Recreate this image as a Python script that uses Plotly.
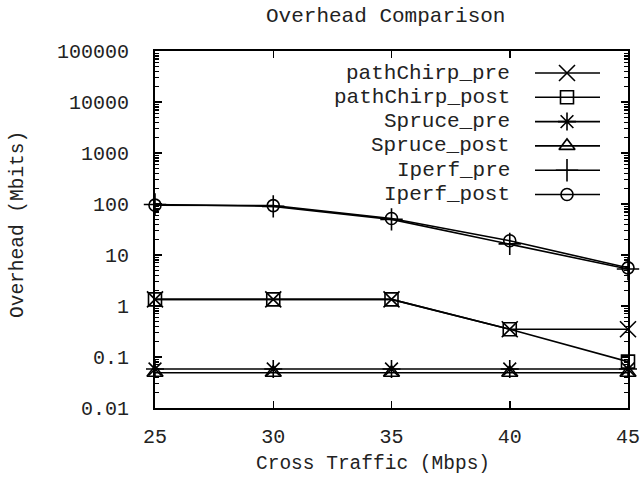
import plotly.graph_objects as go

# ---- data ----
cross_traffic = [25, 30, 35, 40, 45]
pathchirp_pre = [1.35, 1.35, 1.35, 0.35, 0.35]
pathchirp_post = [1.35, 1.35, 1.35, 0.35, 0.081]
spruce_pre = [0.058, 0.058, 0.058, 0.058, 0.058]
spruce_post = [0.049, 0.049, 0.049, 0.049, 0.049]
iperf_pre = [98, 90, 50, 16.5, 5.3]
iperf_post = [95, 93, 52, 19, 5.6]

series_names = ["pathChirp_pre", "pathChirp_post", "Spruce_pre",
                "Spruce_post", "Iperf_pre", "Iperf_post"]
series_values = [pathchirp_pre, pathchirp_post, spruce_pre,
                 spruce_post, iperf_pre, iperf_post]
y_tickvals = [0.01, 0.1, 1, 10, 100, 1000, 10000, 100000]
y_ticktext = ["0.01", "0.1", "1", "10", "100", "1000", "10000", "100000"]
x_tickvals = [25, 30, 35, 40, 45]

# ---- styles ----
symbols = ["x-thin-open", "square-open", "asterisk-open",
           "triangle-up-open", "cross-thin-open", "circle-open"]
sizes = [16, 13, 15, 14, 16, 12]
FONT = "Liberation Mono, Courier New, monospace"
INK = "#222222"

W, H = 643, 483
L, R, T, B = 155, 15, 51, 75
PW, PH = W - L - R, H - T - B


def px_to_paper(px, py):
    return (px - L) / PW, (H - B - py) / PH


fig = go.Figure()

for name, vals, sym, sz in zip(series_names, series_values, symbols, sizes):
    fig.add_trace(go.Scatter(
        x=cross_traffic, y=vals, mode="lines+markers", name=name,
        line=dict(color="black", width=1.6),
        marker=dict(symbol=sym, size=sz, color="black",
                    line=dict(color="black", width=1.6)),
        showlegend=False, xaxis="x", yaxis="y", cliponaxis=False))

# ---- custom legend (key on the right of the text, like gnuplot) ----
row0, row_step = 73, 24.3
text_right, key_x0, key_x1, key_mid = 512, 535, 600, 567

annotations = []
for i, (name, sym, sz) in enumerate(zip(series_names, symbols, sizes)):
    ry = row0 + i * row_step
    fig.add_trace(go.Scatter(
        x=[key_x0, key_x1], y=[ry, ry], mode="lines",
        line=dict(color="black", width=1.6),
        showlegend=False, hoverinfo="skip", xaxis="x2", yaxis="y2"))
    fig.add_trace(go.Scatter(
        x=[key_mid], y=[ry], mode="markers",
        marker=dict(symbol=sym, size=sz, color="black",
                    line=dict(color="black", width=1.6)),
        showlegend=False, hoverinfo="skip", xaxis="x2", yaxis="y2"))
    ax, ay = px_to_paper(text_right, ry)
    annotations.append(dict(
        x=ax, y=ay, xref="paper", yref="paper", text=name,
        showarrow=False, xanchor="right", yanchor="middle",
        font=dict(family=FONT, size=21, color=INK)))

# titles
tx, ty = px_to_paper(385.5, 17)
annotations.append(dict(
    x=tx, y=ty, xref="paper", yref="paper",
    text="Overhead Comparison", showarrow=False,
    xanchor="center", yanchor="middle",
    font=dict(family=FONT, size=21, color=INK)))
tx, ty = px_to_paper(373, 464)
annotations.append(dict(
    x=tx, y=ty, xref="paper", yref="paper",
    text="Cross Traffic (Mbps)", showarrow=False,
    xanchor="center", yanchor="middle",
    font=dict(family=FONT, size=19.5, color=INK)))
tx, ty = px_to_paper(18, 225)
annotations.append(dict(
    x=tx, y=ty, xref="paper", yref="paper",
    text="Overhead (Mbits)", showarrow=False, textangle=-90,
    xanchor="center", yanchor="middle",
    font=dict(family=FONT, size=19.5, color=INK)))

fig.update_layout(
    width=W, height=H,
    margin=dict(l=L, r=R, t=T, b=B, pad=0, autoexpand=False),
    paper_bgcolor="white", plot_bgcolor="white",
    font=dict(family=FONT, color=INK),
    annotations=annotations,
    hovermode=False,
    xaxis=dict(
        range=[25, 45], tickvals=x_tickvals, automargin=False,
        ticks="inside", ticklen=7, tickwidth=1.5, tickcolor="black",
        showline=True, linecolor="black", linewidth=2, mirror="ticks",
        showgrid=False, zeroline=False,
        tickfont=dict(family=FONT, size=20, color=INK),
        ticklabelstandoff=9),
    yaxis=dict(
        type="log", range=[-2, 5], automargin=False,
        tickvals=y_tickvals, ticktext=y_ticktext,
        ticks="inside", ticklen=7, tickwidth=1.5, tickcolor="black",
        minor=dict(ticks="inside", ticklen=4, tickwidth=1.2,
                   tickcolor="black", dtick="D1", showgrid=False),
        showline=True, linecolor="black", linewidth=2, mirror="ticks",
        showgrid=False, zeroline=False,
        tickfont=dict(family=FONT, size=20, color=INK),
        ticklabelstandoff=20),
    xaxis2=dict(range=[L, W - R], overlaying="x", anchor="y2",
                visible=False, automargin=False),
    yaxis2=dict(range=[H - B, T], overlaying="y", anchor="x2",
                visible=False, automargin=False),
)

fig.write_html(
    "out.html",
    config={"displayModeBar": False, "staticPlot": True},
    post_script="document.body.style.margin='0';"
                "document.body.style.overflow='hidden';")
